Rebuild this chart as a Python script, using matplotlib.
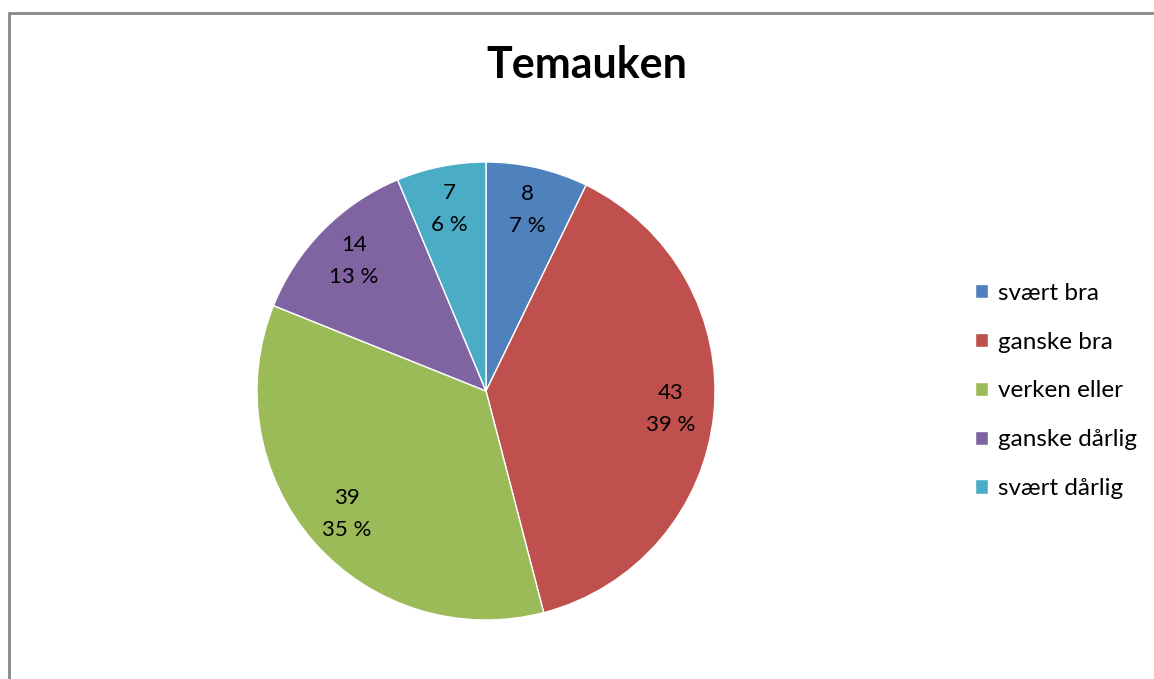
import matplotlib.pyplot as plt
from matplotlib.patches import Rectangle

# data
categories = ['svært bra', 'ganske bra', 'verken eller', 'ganske dårlig', 'svært dårlig']
values = [8, 43, 39, 14, 7]
colors = ['#4F81BD', '#C0504D', '#9BBB59', '#8064A2', '#4BACC6']

plt.rcParams['font.family'] = ['Lato', 'DejaVu Sans']

fig = plt.figure(figsize=(11.54, 6.79), dpi=100)

# grey frame round the chart area
fig.patches.append(Rectangle((8.5 / 1154, -0.05), 1.2, 1 - 12.5 / 679 + 0.05,
                             transform=fig.transFigure, fill=False,
                             edgecolor='#878787', linewidth=2))

ax = fig.add_axes([257 / 1154, (679 - 391 - 229) / 679, 458 / 1154, 458 / 679])

total = sum(values)

def lab(p):
    v = round(p * total / 100)
    return '%d\n%d %%' % (v, round(p))

wedges, texts, autotexts = ax.pie(values, colors=colors, startangle=90, counterclock=False,
                                  autopct=lab, pctdistance=0.81,
                                  wedgeprops=dict(edgecolor='white', linewidth=1),
                                  textprops=dict(fontsize=16, color='black', linespacing=1.75))
ax.set_xlim(-1, 1)
ax.set_ylim(-1, 1)
ax.set_aspect('equal')

fig.text(587 / 1154, 1 - 65 / 679, 'Temauken', ha='center', va='center',
         fontsize=31, fontweight='bold')

fig.legend(wedges, categories, loc='center left', bbox_to_anchor=(953 / 1154, 1 - 391 / 679),
           frameon=False, fontsize=17.5, handlelength=0.55, handleheight=0.55,
           handletextpad=0.4, labelspacing=1.15)

fig.savefig('out.png', dpi=100)
